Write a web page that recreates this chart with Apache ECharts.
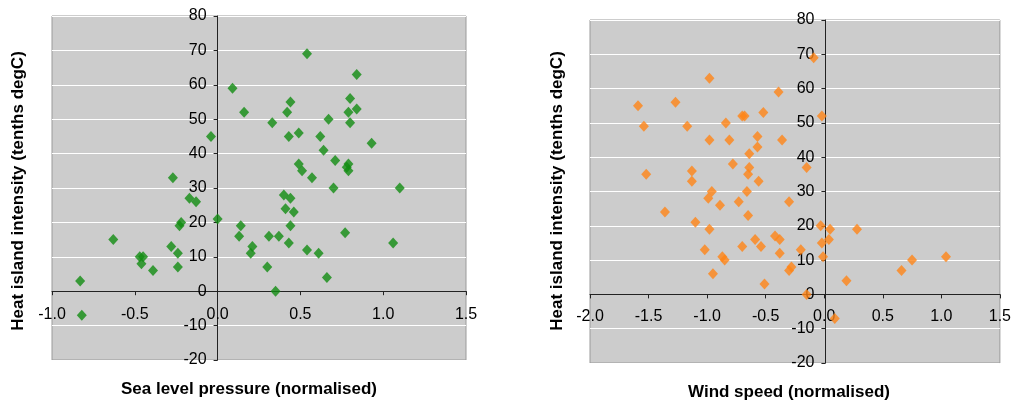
<!DOCTYPE html>
<html>
<head>
<meta charset="utf-8">
<script src="https://cdn.jsdelivr.net/npm/echarts@6/dist/echarts.min.js"></script>
<style>
html,body{margin:0;padding:0;background:#fff;}
#chart{width:1014px;height:401px;}
</style>
</head>
<body>
<div id="chart"></div>
<script>
// Left chart: sea level pressure (normalised) vs heat island intensity
var slpX = [-0.83,-0.82,-0.63,-0.47,-0.45,-0.46,-0.39,-0.27,-0.28,-0.24,-0.24,-0.23,-0.22,-0.17,-0.13,-0.04,0.00,0.09,0.16,0.14,0.13,0.21,0.20,
            0.54,0.84,0.80,0.44,0.42,0.79,0.84,0.33,0.67,0.80,0.43,0.49,0.62,0.93,0.64,0.71,0.49,0.79,0.78,0.79,0.51,0.57,0.70,1.10,
            0.40,0.44,0.41,0.46,0.44,0.31,0.37,0.77,0.43,0.54,0.61,1.06,0.30,0.66,0.35];
var slpY = [3,-7,15,10,10,8,6,33,13,11,7,19,20,27,26,45,21,59,52,19,16,13,11,
            69,63,56,55,52,52,53,49,50,49,45,46,45,43,41,38,37,37,36,35,35,33,30,30,
            28,27,24,23,19,16,16,17,14,12,11,14,7,4,0];
// Right chart: wind speed (normalised) vs heat island intensity
var windX = [-1.59,-1.54,-1.52,-1.36,-1.27,-1.17,-1.13,-1.13,-1.10,-0.98,-0.98,-0.96,-0.99,-0.98,-1.02,-0.95,-0.89,-0.87,-0.85,-0.84,-0.81,
             -0.78,-0.73,-0.70,-0.70,-0.68,-0.66,-0.65,-0.64,-0.64,-0.65,-0.57,-0.57,-0.56,-0.59,-0.54,-0.52,-0.51,-0.39,-0.36,-0.42,
             -0.38,-0.38,-0.30,-0.30,-0.28,-0.20,-0.15,-0.15,-0.09,-0.02,-0.03,0.05,-0.02,0.04,-0.01,0.28,0.19,0.09,0.66,0.75,1.04];
var windY = [55,49,35,24,56,49,36,33,21,63,45,30,28,19,13,6,26,11,10,50,45,
             38,27,14,52,52,30,35,37,41,23,43,46,33,16,14,53,3,59,45,17,
             16,12,27,7,8,13,37,0,69,52,20,19,15,16,11,19,4,-7,7,10,11];
var yTicks = {min:-20, max:80, interval:10};
var leftXTicks = {min:-1.0, max:1.5, interval:0.5};
var rightXTicks = {min:-2.0, max:1.5, interval:0.5};
var yTitle = 'Heat island intensity (tenths degC)';
var leftXTitle = 'Sea level pressure (normalised)';
var rightXTitle = 'Wind speed (normalised)';

function pairs(xs, ys){ var o=[]; for(var i=0;i<xs.length;i++) o.push([xs[i], ys[i]]); return o; }

var FONT = '"Liberation Sans", Arial, sans-serif';
var grids = [
  {left:52, top:16, width:414, height:344},
  {left:590, top:20, width:412, height:343}
];
var xRanges = [leftXTicks, rightXTicks];
function xAxisCfg(idx, margin){
  var t = xRanges[idx];
  // place the x axis on y = 0 (shift up from the bottom edge by the share of the y range below zero)
  var shift = (0 - yTicks.min) / (yTicks.max - yTicks.min) * grids[idx].height;
  return {
    type:'value', gridIndex:idx, min:t.min, max:t.max, interval:t.interval,
    position:'bottom', offset:-shift,
    axisLine:{show:true, onZero:false, lineStyle:{color:'#222', width:1}},
    axisTick:{show:true, length:4, lineStyle:{color:'#222'}},
    axisLabel:{margin:margin, color:'#000', fontSize:16, fontFamily:FONT,
      formatter:function(v){ return v.toFixed(1); }},
    splitLine:{show:false}
  };
}
function yAxisCfg(idx){
  var t = xRanges[idx];
  // place the y axis on x = 0 (shift right from the left edge by the share of the x range below zero)
  var shift = (0 - t.min) / (t.max - t.min) * grids[idx].width;
  return {
    type:'value', gridIndex:idx, min:yTicks.min, max:yTicks.max, interval:yTicks.interval,
    position:'left', offset:-shift,
    axisLine:{show:true, onZero:false, lineStyle:{color:'#222', width:1}},
    axisTick:{show:true, length:4, lineStyle:{color:'#222'}},
    axisLabel:{margin:11, color:'#000', fontSize:16, fontFamily:FONT},
    splitLine:{show:true, lineStyle:{color:'#ffffff', width:1}}
  };
}

var chart = echarts.init(document.getElementById('chart'), null, {renderer:'canvas'});
chart.setOption({
  backgroundColor:'#ffffff',
  animation:false,
  grid:[
    Object.assign({show:true, backgroundColor:'#cccccc', borderColor:'#9a9a9a', borderWidth:1}, grids[0]),
    Object.assign({show:true, backgroundColor:'#cccccc', borderColor:'#9a9a9a', borderWidth:1}, grids[1])
  ],
  xAxis:[xAxisCfg(0, 15), xAxisCfg(1, 14)],
  yAxis:[yAxisCfg(0), yAxisCfg(1)],
  series:[
    {type:'scatter', xAxisIndex:0, yAxisIndex:0, data:pairs(slpX, slpY),
     symbol:'diamond', symbolSize:[10,11], itemStyle:{color:'#128c12'}},
    {type:'scatter', xAxisIndex:1, yAxisIndex:1, data:pairs(windX, windY),
     symbol:'diamond', symbolSize:[10,11], itemStyle:{color:'#ff8517'}}
  ],
  graphic:[
    {type:'text', x:18, y:191, rotation:Math.PI/2, style:{text:yTitle, font:'bold 17px '+FONT, fill:'#000', textAlign:'center', textVerticalAlign:'middle'}},
    {type:'text', x:557, y:191, rotation:Math.PI/2, style:{text:yTitle, font:'bold 17px '+FONT, fill:'#000', textAlign:'center', textVerticalAlign:'middle'}},
    {type:'text', x:249, y:389, style:{text:leftXTitle, font:'bold 17px '+FONT, fill:'#000', textAlign:'center', textVerticalAlign:'middle'}},
    {type:'text', x:789, y:392, style:{text:rightXTitle, font:'bold 17px '+FONT, fill:'#000', textAlign:'center', textVerticalAlign:'middle'}}
  ]
});
</script>
</body>
</html>
